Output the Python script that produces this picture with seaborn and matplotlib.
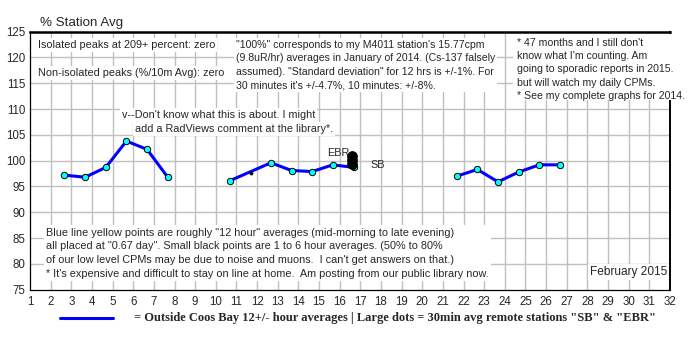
import matplotlib
matplotlib.use("Agg")
import matplotlib.pyplot as plt
from matplotlib.ticker import MultipleLocator
from matplotlib.patches import Rectangle
import seaborn as sns
import pandas as pd
import numpy as np

# ---- data ----
seg1_days = [2.67, 3.67, 4.67, 5.67, 6.67, 7.67]
seg1_vals = [97.2, 96.8, 98.7, 103.8, 102.2, 96.8]
seg2_days = [10.67, 12.67, 13.67, 14.67, 15.67, 16.67]
seg2_vals = [96.1, 99.6, 98.1, 97.9, 99.2, 98.7]
seg3_days = [21.67, 22.67, 23.67, 24.67, 25.67, 26.67]
seg3_vals = [97.0, 98.3, 95.9, 97.8, 99.2, 99.2]
large_dot_days = [16.6, 16.6, 16.6]
large_dot_vals = [101.0, 100.2, 99.4]
small_dot_days = [11.7, 16.65]
small_dot_vals = [97.7, 98.5]

xticks = list(range(1, 33))
yticks = list(range(75, 126, 5))

rows = []
for seg, (d, v) in enumerate([(seg1_days, seg1_vals), (seg2_days, seg2_vals), (seg3_days, seg3_vals)]):
    for di, vi in zip(d, v):
        rows.append({"day": di, "pct": vi, "seg": seg})
df = pd.DataFrame(rows)
big = pd.DataFrame({"day": large_dot_days, "pct": large_dot_vals})
small = pd.DataFrame({"day": small_dot_days, "pct": small_dot_vals})

sns.set_style("white")
plt.rcParams['font.family'] = ['Liberation Sans', 'DejaVu Sans']

W, H = 700, 350
fig = plt.figure(figsize=(7, 3.5), dpi=100)
ax = fig.add_axes([30 / W, 1 - 289.7 / H, 640 / W, (289.7 - 31.7) / H])

ax.set_xlim(1, 32)
ax.set_ylim(75, 125)
ax.set_xticks(xticks)
ax.set_yticks(yticks)
ax.xaxis.set_minor_locator(MultipleLocator(1 / 3))
ax.yaxis.set_minor_locator(MultipleLocator(1))
ax.tick_params(axis='both', which='both', direction='inout', color='black', width=0.8)
ax.tick_params(axis='both', which='major', length=5, labelsize=8.3, pad=1)
ax.tick_params(axis='both', which='minor', length=4)
ax.tick_params(axis='x', which='major', pad=2)

ax.grid(False)
for d in xticks[1:-1]:
    ax.axvline(d, color='#c0c0c0', lw=1.0, zorder=0)
for v in yticks[1:-1]:
    ax.axhline(v, color='#c0c0c0', lw=1.0, zorder=0)

for s in ['left', 'bottom']:
    ax.spines[s].set_color('black')
    ax.spines[s].set_linewidth(0.9)
ax.spines['top'].set_color('black')
ax.spines['top'].set_linewidth(1.8)
ax.spines['right'].set_color('black')
ax.spines['right'].set_linewidth(1.4)

sns.lineplot(data=df, x="day", y="pct", units="seg", estimator=None, ax=ax,
             color='#0000ff', lw=2.2, marker='o', markersize=4.6,
             markerfacecolor='#00ffff', markeredgecolor='black', markeredgewidth=0.7,
             zorder=5, legend=False)
sns.scatterplot(data=big, x="day", y="pct", ax=ax, color='black', s=50,
                edgecolor='black', zorder=6, legend=False)
sns.scatterplot(data=small, x="day", y="pct", ax=ax, color='black', s=6,
                edgecolor='black', marker='o', zorder=6, legend=False)
ax.set_xlabel("")
ax.set_ylabel("")


def atext(x, y, s, size=8, ha='left', va='center', z=2.4, **kw):
    ax.text(x / W, 1 - y / H, s, ha=ha, va=va, fontsize=size,
            transform=fig.transFigure, zorder=z, clip_on=False, **kw)


white = dict(facecolor='white', edgecolor='none', pad=1.5)

atext(40, 23, "% Station Avg", size=9.6)
atext(38, 45, "Isolated peaks at 209+ percent: zero", size=7.8, bbox=white)
atext(38, 73, "Non-isolated peaks (%/10m Avg): zero", size=7.8, bbox=white)

mid = ["\"100%\" corresponds to my M4011 station's 15.77cpm",
       "(9.8uR/hr) averages in January of 2014. (Cs-137 falsely",
       "assumed). \"Standard deviation\" for 12 hrs is +/-1%. For",
       "30 minutes it's +/-4.7%, 10 minutes: +/-8%."]
atext(236, 40, "\n".join(mid), size=7.6, va='top', linespacing=1.42, bbox=white)

# white panel behind the right-hand note (covers the right border there)
ax.add_patch(Rectangle((513 / W, 1 - 100 / H), (692 - 513) / W, (100 - 34.5) / H,
                       transform=fig.transFigure, facecolor='white', edgecolor='none',
                       zorder=2.6, clip_on=False))
right = ["* 47 months and I still don't",
         "know what I'm counting. Am",
         "going to sporadic reports in 2015.",
         "but will watch my daily CPMs.",
         "* See my complete graphs for 2014."]
atext(517, 37.5, "\n".join(right), size=7.6, va='top', linespacing=1.42, z=2.7)

atext(122, 115, "v--Don't know what this is about. I might", size=7.8, bbox=white)
atext(135, 129, "add a RadViews comment at the library*.", size=7.8, bbox=white)

bottom = ["Blue line yellow points are roughly \"12 hour\" averages (mid-morning to late evening)",
          "all placed at \"0.67 day\". Small black points are 1 to 6 hour averages. (50% to 80%",
          "of our low level CPMs may be due to noise and muons.  I can't get answers on that.)",
          "* It's expensive and difficult to stay on line at home.  Am posting from our public library now."]
atext(46, 227.5, "\n".join(bottom), size=7.8, va='top', linespacing=1.49, bbox=white)

atext(327, 153, "EBR", size=7.8)
atext(370, 165, "SB", size=7.8)
atext(667, 272, "February 2015", size=8.6, ha='right', bbox=white)

# legend line + text
fig.lines.append(plt.Line2D([60 / W, 113 / W], [1 - 318 / H, 1 - 318 / H],
                            color='#0000ff', lw=2.2, transform=fig.transFigure))
atext(134, 318, "= Outside Coos Bay 12+/- hour averages | Large dots = 30min avg remote stations \"SB\" & \"EBR\"",
      size=9, family=['Liberation Serif', 'DejaVu Serif'], fontweight='bold')

fig.savefig("out.png", dpi=100, facecolor='white')
